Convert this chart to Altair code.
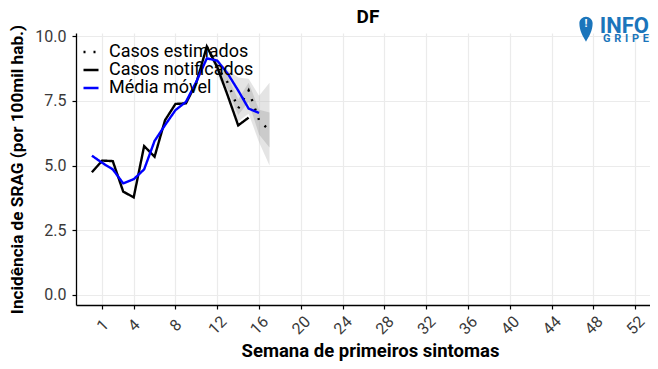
import altair as alt
import pandas as pd

# ---------------- data ----------------
weeks_notified = list(range(0, 16))
notified = [4.74, 5.19, 5.17, 3.99, 3.77, 5.75, 5.34, 6.75, 7.38, 7.40,
            8.20, 9.60, 8.80, 7.70, 6.55, 6.85]

weeks_ma = list(range(0, 17))
moving_avg = [5.38, 5.10, 4.85, 4.31, 4.47, 4.85, 5.95, 6.56, 7.14, 7.46,
              8.24, 9.14, 9.05, 8.55, 7.90, 7.20, 7.03]

weeks_est = list(range(11, 18))
estimated = [9.60, 8.80, 8.20, 7.20, 7.90, 6.75, 6.35]
est_lo50 = [9.60, 8.65, 7.95, 6.95, 7.45, 6.20, 5.70]
est_hi50 = [9.60, 8.95, 8.45, 7.55, 8.20, 7.15, 7.05]
est_lo90 = [9.60, 8.50, 7.70, 6.70, 7.00, 5.90, 5.00]
est_hi90 = [9.60, 9.10, 8.70, 8.40, 8.35, 7.70, 8.20]

series_names = ["Casos estimados", "Casos notificados", "Média móvel"]
series_colors = ["black", "black", "#0000ff"]
series_dash = [[2, 8], [1, 0], [1, 0]]

x_ticks = [1, 4, 8, 12, 16, 20, 24, 28, 32, 36, 40, 44, 48, 52]
y_ticks = [0, 2.5, 5, 7.5, 10]

title_text = "DF"
x_title = "Semana de primeiros sintomas"
y_title = "Incidência de SRAG (por 100mil hab.)"

# ---------------- tables ----------------
lines_df = pd.concat([
    pd.DataFrame({"week": weeks_est, "value": estimated, "serie": series_names[0]}),
    pd.DataFrame({"week": weeks_notified, "value": notified, "serie": series_names[1]}),
    pd.DataFrame({"week": weeks_ma, "value": moving_avg, "serie": series_names[2]}),
], ignore_index=True)

ribbon_df = pd.DataFrame({"week": weeks_est, "lo50": est_lo50, "hi50": est_hi50,
                          "lo90": est_lo90, "hi90": est_hi90})

FONT = "Roboto"
W, H = 574, 272
xscale = alt.Scale(domain=[-1.52, 53.41], nice=False, zero=False)
yscale = alt.Scale(domain=[-0.39, 10.12], nice=False, zero=False)

xaxis = alt.Axis(values=x_ticks, title=x_title, labelAngle=315, labelAlign="center",
                 labelBaseline="middle", labelPadding=16, tickSize=4, titlePadding=4,
                 labelFlush=False, labelOverlap=False, titleFontSize=18.5,
                 titleX=294, titleAlign="center")
yaxis = alt.Axis(values=y_ticks, title=y_title, format=".1f", tickSize=4,
                 labelPadding=6, titlePadding=8, titleFontSize=17.2)

base = alt.Chart(ribbon_df)

outer = base.mark_area(color="#bfbfbf", opacity=0.42).encode(
    x=alt.X("week:Q", scale=xscale, axis=xaxis),
    y=alt.Y("lo90:Q", scale=yscale, axis=yaxis),
    y2="hi90:Q",
)
inner = base.mark_area(color="#7f7f7f", opacity=0.25).encode(
    x=alt.X("week:Q", scale=xscale),
    y=alt.Y("lo50:Q", scale=yscale),
    y2="hi50:Q",
)

leg = alt.Legend(title=None, orient="none", legendX=6, legendY=10, padding=0,
                 labelFontSize=18, labelFont=FONT, labelColor="black",
                 symbolType="stroke", symbolSize=225, symbolStrokeWidth=2.5,
                 labelOffset=9, rowPadding=-1, labelLimit=300)

lines = alt.Chart(lines_df).mark_line(strokeWidth=2.4, strokeCap="butt").encode(
    x=alt.X("week:Q", scale=xscale),
    y=alt.Y("value:Q", scale=yscale),
    color=alt.Color("serie:N", scale=alt.Scale(domain=series_names, range=series_colors), legend=leg),
    strokeDash=alt.StrokeDash("serie:N", scale=alt.Scale(domain=series_names, range=series_dash), legend=leg),
    order="week:Q",
)

# ---------------- title and logo (decoration) ----------------
one = pd.DataFrame({"k": [0]})
title_mark = alt.Chart(one).mark_text(text=title_text, font=FONT, fontWeight="bold", fontSize=19,
                                      color="black", baseline="alphabetic", align="center").encode(
    x=alt.value(292), y=alt.value(-10.5))

LOGO = "#1b75bb"
pin_path = ("M0,1 C-0.25,0.55 -0.53,0.15 -0.53,-0.47 "
            "A0.53,0.53 0 1 1 0.53,-0.47 C0.53,0.15 0.25,0.55 0,1 Z")
RX = W - 1
pin = alt.Chart(one).mark_point(shape=pin_path, filled=True, color=LOGO, opacity=1,
                                size=625, strokeWidth=0).encode(
    x=alt.value(RX - 63), y=alt.value(-3.8))
bang = alt.Chart(one).mark_text(text="!", font=FONT, fontWeight="bold", fontSize=11,
                                color="white", baseline="middle", align="center").encode(
    x=alt.value(RX - 63), y=alt.value(-9.5))
info = alt.Chart(one).mark_text(text="INFO", font=FONT, fontWeight="bold", fontSize=22,
                                color=LOGO, baseline="alphabetic", align="right").encode(
    x=alt.value(RX), y=alt.value(0.3))
gripe = alt.Chart(one).mark_text(text="G\u2004R\u2004I\u2004P\u2004E", font=FONT,
                                 fontWeight="bold", fontSize=11, color=LOGO,
                                 baseline="alphabetic", align="right").encode(
    x=alt.value(RX), y=alt.value(9.3))

chart = alt.layer(outer, inner, lines, title_mark, pin, bang, info, gripe).properties(
    width=W, height=H,
    autosize=alt.AutoSizeParams(type="none"),
    padding={"left": 68, "top": 25, "right": 0, "bottom": 56},
).configure_view(stroke=None).configure_axis(
    labelFont=FONT, labelFontSize=16, labelColor="#3a3a3a",
    titleFont=FONT, titleFontWeight="bold", titleColor="black",
    domainColor="black", domainWidth=1.3, tickColor="black", tickWidth=1.2,
    gridColor="#ebebeb", gridWidth=1.2,
)

chart.save("out.html", embed_options={"renderer": "svg", "actions": False})
